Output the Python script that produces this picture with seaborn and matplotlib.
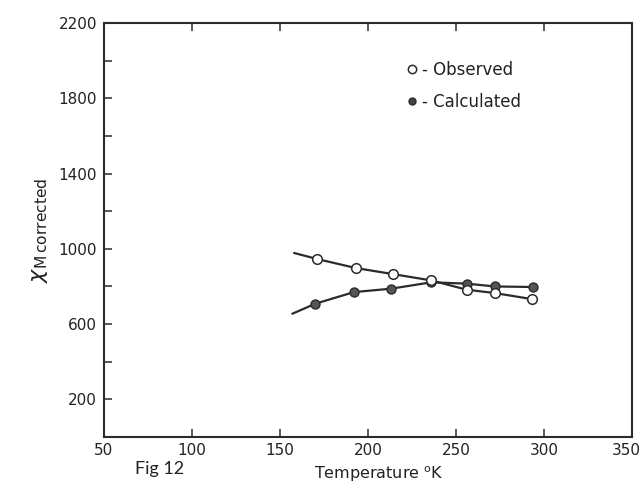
import matplotlib
matplotlib.use("Agg")
import matplotlib.pyplot as plt
import matplotlib.transforms as mtransforms
from matplotlib.lines import Line2D
import seaborn as sns
import pandas as pd

# Data
temp_obs = [171, 193, 214, 236, 256, 272, 293]
chi_obs = [946, 898, 866, 832, 783, 765, 733]
temp_calc = [170, 192, 213, 236, 256, 272, 294]
chi_calc = [708, 770, 788, 825, 815, 800, 797]

# Hand-drawn curves
curve_obs_t = [158, 171, 193, 214, 236, 256, 272, 293]
curve_obs_v = [978, 946, 898, 866, 832, 783, 765, 733]
curve_calc_t = [157, 170, 192, 213, 236, 256, 272, 294]
curve_calc_v = [655, 708, 770, 788, 822, 815, 800, 797]

xticks = [50, 100, 150, 200, 250, 300, 350]
yticks = [200, 600, 1000, 1400, 1800, 2200]
yminor = [400, 800, 1200, 1600, 2000]

sns.set_style("white")
plt.rcParams['font.family'] = ['DejaVu Sans']

fig = plt.figure(figsize=(6.42, 4.86), dpi=100)
ax = fig.add_axes([104/642, 1-437/486, (632-104)/642, (437-23)/486])

ink = "#2b2b2b"
df_co = pd.DataFrame({"T": curve_obs_t, "v": curve_obs_v})
df_cc = pd.DataFrame({"T": curve_calc_t, "v": curve_calc_v})
sns.lineplot(data=df_co, x="T", y="v", ax=ax, color=ink, lw=1.6, sort=False)
sns.lineplot(data=df_cc, x="T", y="v", ax=ax, color=ink, lw=1.6, sort=False)

df_o = pd.DataFrame({"T": temp_obs, "v": chi_obs})
df_c = pd.DataFrame({"T": temp_calc, "v": chi_calc})
sns.scatterplot(data=df_c, x="T", y="v", ax=ax, s=42, marker="o",
                facecolor="#555555", edgecolor=ink, linewidth=1.0, zorder=3)
sns.scatterplot(data=df_o, x="T", y="v", ax=ax, s=48, marker="o",
                facecolor="white", edgecolor=ink, linewidth=1.1, zorder=4)

ax.set_xlim(50, 350)
ax.set_ylim(0, 2200)
ax.set_xticks(xticks)
ax.set_yticks(yticks)
ax.set_yticks(yminor, minor=True)
ax.tick_params(axis="both", which="both", direction="in", color=ink,
               labelsize=11, labelcolor="#222222")
ax.tick_params(axis="both", which="major", length=6, width=1.1)
ax.tick_params(axis="y", which="minor", length=6, width=1.1, left=True, right=False)
ax.tick_params(axis="x", which="major", top=True, bottom=True, pad=4)
ax.tick_params(axis="y", which="major", left=True, right=False, pad=5)
for sp in ax.spines.values():
    sp.set_visible(True)
    sp.set_color(ink)
    sp.set_linewidth(1.5)

# keep the last x tick label inside the figure
last = ax.get_xticklabels()[-1]
last.set_transform(last.get_transform() + mtransforms.ScaledTranslation(-6/100, 0, fig.dpi_scale_trans))

ax.set_xlabel("Temperature $^{\\mathrm{o}}$K", fontsize=11.5, color="#222222")
ax.xaxis.set_label_coords(0.52, -0.066)
ax.set_ylabel(r"$\chi_{\mathrm{M\,corrected}}$", fontsize=16, color="#222222", labelpad=6)

handles = [
    Line2D([], [], ls="none", marker="o", markersize=6, markerfacecolor="white",
           markeredgecolor=ink, markeredgewidth=1.1),
    Line2D([], [], ls="none", marker="o", markersize=5, markerfacecolor="#444444",
           markeredgecolor=ink, markeredgewidth=1.0),
]
ax.legend(handles, ["- Observed", "- Calculated"], loc="upper left",
          bbox_to_anchor=(0.54, 0.945), frameon=False, fontsize=12,
          handletextpad=0.1, handlelength=1.0, labelspacing=0.85, labelcolor="#222222")

fig.text(160/642, 1-469/486, "Fig 12", fontsize=13, family=["Lato", "DejaVu Sans"],
         ha="center", va="center", color="#222222")

fig.savefig("out.png", dpi=100)
